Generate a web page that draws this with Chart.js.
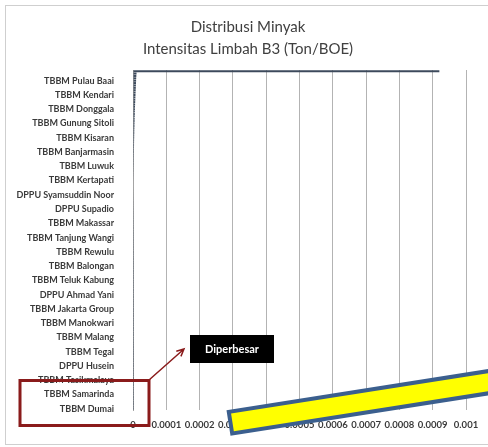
<!DOCTYPE html>
<html>
<head>
<meta charset="utf-8">
<script src="https://cdn.jsdelivr.net/npm/chart.js@4/dist/chart.umd.min.js"></script>
<style>
  html, body { margin: 0; padding: 0; background: #fff; }
</style>
</head>
<body>
<canvas id="grafik" width="488" height="447"></canvas>
<script>
// Lokasi yang labelnya tampil di sumbu (urut dari atas ke bawah)
const lokasi = [
  'TBBM Pulau Baai', 'TBBM Kendari', 'TBBM Donggala', 'TBBM Gunung Sitoli',
  'TBBM Kisaran', 'TBBM Banjarmasin', 'TBBM Luwuk', 'TBBM Kertapati',
  'DPPU Syamsuddin Noor', 'DPPU Supadio', 'TBBM Makassar', 'TBBM Tanjung Wangi',
  'TBBM Rewulu', 'TBBM Balongan', 'TBBM Teluk Kabung', 'DPPU Ahmad Yani',
  'TBBM Jakarta Group', 'TBBM Manokwari', 'TBBM Malang', 'TBBM Tegal',
  'DPPU Husein', 'TBBM Tasikmalaya', 'TBBM Samarinda', 'TBBM Dumai'
];

// Intensitas limbah B3 (Ton/BOE) semua lokasi, urut dari terbesar
const intensitas = [
  0.00092, 1.06e-5, 1.0e-5, 9.6e-6, 9.3e-6, 9.0e-6, 8.7e-6, 8.4e-6, 8.1e-6, 7.8e-6,
  7.5e-6, 7.2e-6, 6.9e-6, 6.6e-6, 6.3e-6, 6.0e-6, 5.8e-6, 5.5e-6, 5.3e-6, 5.1e-6,
  4.9e-6, 4.7e-6, 4.5e-6, 4.3e-6, 4.1e-6, 3.9e-6, 3.8e-6, 3.6e-6, 3.5e-6, 3.3e-6,
  3.2e-6, 3.1e-6, 3.0e-6, 2.9e-6, 2.8e-6, 2.7e-6, 2.6e-6, 2.5e-6, 2.4e-6, 2.3e-6,
  2.2e-6, 2.1e-6, 2.0e-6, 1.9e-6, 1.8e-6, 1.7e-6, 1.6e-6, 1.55e-6, 1.5e-6, 1.45e-6,
  1.4e-6, 1.35e-6, 1.3e-6, 1.25e-6, 1.2e-6, 1.15e-6, 1.1e-6, 1.05e-6, 1.0e-6, 9.6e-7,
  9.2e-7, 8.8e-7, 8.4e-7, 8.0e-7, 7.7e-7, 7.4e-7, 7.1e-7, 6.8e-7, 6.5e-7, 6.2e-7,
  6.0e-7, 5.8e-7, 5.6e-7, 5.4e-7, 5.2e-7, 5.0e-7, 4.8e-7, 4.6e-7, 4.4e-7, 4.2e-7,
  4.0e-7, 3.9e-7, 3.8e-7, 3.7e-7, 3.6e-7, 3.5e-7, 3.4e-7, 3.3e-7, 3.2e-7, 3.1e-7,
  3.0e-7, 2.9e-7, 2.8e-7, 2.7e-7, 2.6e-7, 2.5e-7, 2.4e-7, 2.3e-7, 2.2e-7, 2.1e-7,
  2.0e-7, 1.9e-7, 1.85e-7, 1.8e-7, 1.75e-7, 1.7e-7, 1.65e-7, 1.6e-7, 1.55e-7, 1.5e-7,
  1.45e-7, 1.4e-7, 1.35e-7, 1.3e-7, 1.25e-7, 1.2e-7, 1.15e-7, 1.1e-7, 1.05e-7, 1.0e-7,
  9.5e-8, 9.0e-8, 8.5e-8, 8.0e-8, 7.5e-8, 7.0e-8, 6.5e-8, 6.0e-8, 5.5e-8, 5.0e-8,
  4.6e-8, 4.2e-8, 3.8e-8, 3.4e-8, 3.0e-8, 2.6e-8, 2.2e-8, 1.8e-8, 1.4e-8, 1.0e-8,
  8e-9, 6e-9, 4e-9
];

// Tick sumbu X
const tickX = [0, 0.0001, 0.0002, 0.0003, 0.0004, 0.0005, 0.0006, 0.0007, 0.0008, 0.0009, 0.001];

const judul = ['Distribusi Minyak', 'Intensitas Limbah B3 (Ton/BOE)'];

// label hanya muncul tiap 6 kategori (mulai kategori ke-5)
const labelAwal = 4;
const labelJarak = 6;
const kategori = intensitas.map((v, i) =>
  (i >= labelAwal && (i - labelAwal) % labelJarak === 0) ? lokasi[(i - labelAwal) / labelJarak] : '');

const warnaTeks = '#3a3a3a';

// latar putih, bingkai dan judul dua baris
const latar = {
  id: 'latar',
  beforeDraw(chart) {
    const c = chart.ctx;
    c.save();
    c.fillStyle = '#fff';
    c.fillRect(0, 0, chart.width, chart.height);
    c.strokeStyle = '#cfcfcf';
    c.lineWidth = 1;
    c.strokeRect(5.5, 5.5, chart.width + 10, 439);
    c.fillStyle = '#404040';
    c.font = '15px Lato';
    c.textAlign = 'center';
    c.textBaseline = 'middle';
    judul.forEach((t, i) => c.fillText(t, 248, 27 + i * 22));
    c.restore();
  }
};

// kotak merah, panah, label "Diperbesar" dan pita kuning
const anotasi = {
  id: 'anotasi',
  afterDraw(chart) {
    const c = chart.ctx;
    c.save();
    c.strokeStyle = '#8a1b1b';
    c.lineWidth = 3;
    c.strokeRect(20, 380.5, 129, 45);

    const x0 = 149, y0 = 380, x1 = 184, y1 = 349;
    const a = Math.atan2(y1 - y0, x1 - x0);
    c.lineWidth = 1.5;
    c.beginPath();
    c.moveTo(x0, y0);
    c.lineTo(x1, y1);
    c.moveTo(x1 - 8 * Math.cos(a - 0.45), y1 - 8 * Math.sin(a - 0.45));
    c.lineTo(x1, y1);
    c.lineTo(x1 - 8 * Math.cos(a + 0.45), y1 - 8 * Math.sin(a + 0.45));
    c.stroke();

    c.fillStyle = '#000';
    c.fillRect(190, 335, 84, 28);
    c.fillStyle = '#fff';
    c.font = 'bold 11px Lato';
    c.textAlign = 'center';
    c.textBaseline = 'middle';
    c.fillText('Diperbesar', 232, 349);

    c.translate(228.5, 423);
    c.rotate(-Math.atan(0.157));
    c.fillStyle = '#3b5f8e';
    c.fillRect(0, -13, 320, 26);
    c.fillStyle = '#ffff00';
    c.fillRect(4, -9, 320, 18);
    c.restore();
  }
};

new Chart(document.getElementById('grafik'), {
  type: 'bar',
  data: {
    labels: kategori,
    datasets: [{
      data: intensitas,
      backgroundColor: '#3d4a5c',
      barPercentage: 1,
      categoryPercentage: 0.85
    }]
  },
  options: {
    indexAxis: 'y',
    responsive: false,
    animation: false,
    layout: { padding: { left: 8, right: 22, top: 70, bottom: 0 } },
    plugins: {
      legend: { display: false },
      tooltip: { enabled: false },
      title: { display: false }
    },
    scales: {
      x: {
        min: tickX[0],
        max: tickX[tickX.length - 1],
        afterBuildTicks: s => { s.ticks = tickX.map(v => ({ value: v })); },
        ticks: {
          autoSkip: false,
          color: warnaTeks,
          font: { family: 'Lato', size: 9.5, weight: 'bold' },
          padding: 9,
          maxRotation: 0,
          callback: v => v === 0 ? '0' : String(+v.toFixed(4))
        },
        grid: { color: '#b3b3b3', drawTicks: false },
        border: { display: false },
        afterFit: s => { s.height = 37; }
      },
      y: {
        ticks: { autoSkip: false, color: warnaTeks, font: { family: 'Lato', size: 9, weight: 'bold' }, padding: 11 },
        grid: { display: false },
        border: { color: '#a6a6a6' },
        afterFit: s => { s.width = 125; }
      }
    }
  },
  plugins: [latar, anotasi]
});
</script>
</body>
</html>
